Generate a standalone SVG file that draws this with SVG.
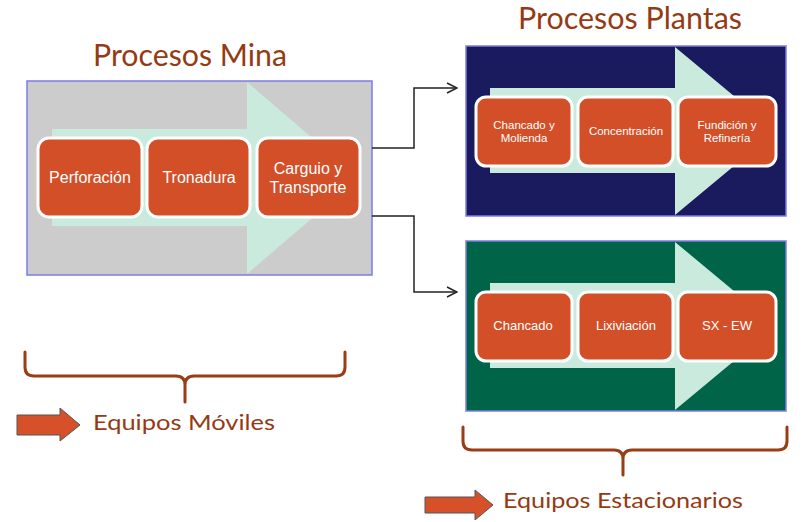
<svg xmlns="http://www.w3.org/2000/svg" width="806" height="522" viewBox="0 0 806 522">
<defs>
<style>
.title{font-family:Lato,"Open Sans","Liberation Sans",sans-serif;font-size:30px;fill:#943b13}
.sub{font-family:Lato,"Open Sans","Liberation Sans",sans-serif;font-size:21px;fill:#943b13}
.node rect{fill:#d24f28;stroke:#ffffff;stroke-width:3}
.node text{font-family:"Liberation Sans",Arial,sans-serif;fill:#ffffff;text-anchor:middle;dominant-baseline:central}
.box{stroke:#7c7ce6;stroke-width:1.5}
.flow{fill:#c9eadd}
.conn{fill:none;stroke:#222222;stroke-width:1.5}
.brace{fill:none;stroke:#9a3d14;stroke-width:3;stroke-linecap:round;stroke-linejoin:round}
.bigarrow{fill:#d6512a;stroke:#555555;stroke-width:1}
</style>
<marker id="open" viewBox="0 0 12 12" refX="11" refY="6" markerWidth="12" markerHeight="12" markerUnits="userSpaceOnUse" orient="auto">
<path d="M1,1 L11,6 L1,11" fill="none" stroke="#222222" stroke-width="1.5"/>
</marker>
</defs>
<rect width="806" height="522" fill="#ffffff"/>

<text class="title" x="93" y="66" textLength="194" lengthAdjust="spacingAndGlyphs">Procesos Mina</text>
<text class="title" x="518" y="29" font-size="28" textLength="224" lengthAdjust="spacingAndGlyphs">Procesos Plantas</text>

<g id="mina">
<rect class="box" x="27" y="81" width="345" height="194" fill="#cccccc"/>
<polygon class="flow" points="52,129 247,129 247,82 359,178 247,274 247,226 52,226"/>
<g id="perforacion" class="node"><rect x="38" y="138" width="104" height="79" rx="11"/><text x="90" y="177" font-size="16">Perforación</text></g>
<g id="tronadura" class="node"><rect x="147" y="138" width="103" height="79" rx="11"/><text x="199" y="177" font-size="16">Tronadura</text></g>
<g id="carguio" class="node"><rect x="257" y="138" width="103" height="79" rx="11"/><text x="308" y="168" font-size="16">Carguio y</text><text x="308" y="187" font-size="16">Transporte</text></g>
</g>

<g id="plantas-sulfuros">
<rect class="box" x="466" y="46" width="320" height="170" fill="#1a1a5f"/>
<polygon class="flow" points="490,88 675,88 675,47 776,131 675,215 675,173 490,173"/>
<g id="chancado-molienda" class="node"><rect x="476" y="97" width="96" height="69" rx="10"/><text x="524" y="125" font-size="11.5">Chancado y</text><text x="524" y="138" font-size="11.5">Molienda</text></g>
<g id="concentracion" class="node"><rect x="578" y="97" width="95" height="69" rx="10"/><text x="626" y="131" font-size="11.5">Concentración</text></g>
<g id="fundicion" class="node"><rect x="678" y="97" width="98" height="69" rx="10"/><text x="727" y="125" font-size="11.5">Fundición y</text><text x="727" y="138" font-size="11.5">Refinería</text></g>
</g>

<g id="plantas-oxidos">
<rect class="box" x="466" y="241" width="320" height="170" fill="#006548"/>
<polygon class="flow" points="490,283 675,283 675,242 776,326 675,410 675,368 490,368"/>
<g id="chancado" class="node"><rect x="476" y="292" width="96" height="69" rx="10"/><text x="523" y="325" font-size="13">Chancado</text></g>
<g id="lixiviacion" class="node"><rect x="578" y="292" width="95" height="69" rx="10"/><text x="626" y="325" font-size="13">Lixiviación</text></g>
<g id="sxew" class="node"><rect x="678" y="292" width="98" height="69" rx="10"/><text x="727" y="325" font-size="13">SX - EW</text></g>
</g>

<g id="connectors">
<path class="conn" d="M372,148 L414,148 L414,88 L457,88" marker-end="url(#open)"/>
<path class="conn" d="M372,216 L414,216 L414,292 L457,292" marker-end="url(#open)"/>
</g>

<g id="moviles">
<path class="brace" d="M25,352 L25,367 Q25,376 34,376 L176,376 Q185,376 185,385 L185,402 M185,385 Q185,376 194,376 L336,376 Q345,376 345,367 L345,352"/>
<polygon class="bigarrow" points="17,415 60,415 60,408 80,425 60,441 60,435 17,435"/>
<text class="sub" x="93" y="430" textLength="182" lengthAdjust="spacingAndGlyphs">Equipos Móviles</text>
</g>

<g id="estacionarios">
<path class="brace" d="M463,427 L463,441 Q463,450 472,450 L614,450 Q623,450 623,459 L623,475 M623,459 Q623,450 632,450 L778,450 Q787,450 787,441 L787,427"/>
<polygon class="bigarrow" points="425,497 475,497 475,490 493,505 475,520 475,513 425,513"/>
<text class="sub" x="503" y="508" textLength="240" lengthAdjust="spacingAndGlyphs">Equipos Estacionarios</text>
</g>
</svg>
